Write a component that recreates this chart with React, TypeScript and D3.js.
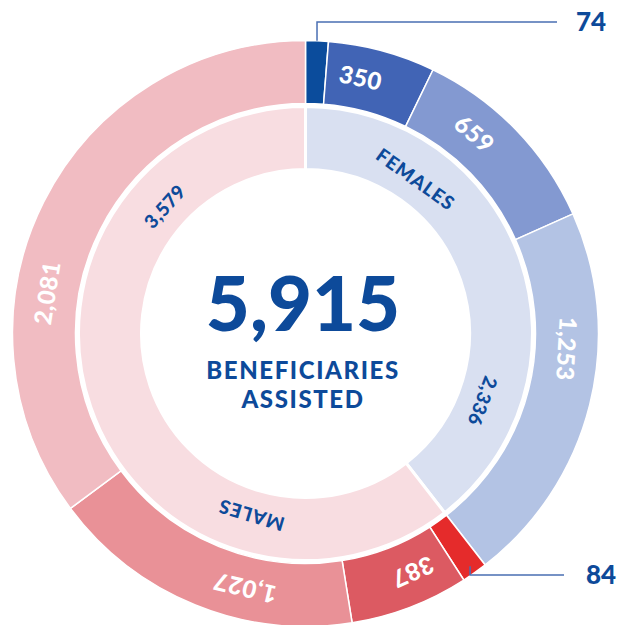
import { useEffect, useRef } from "react";
import * as d3 from "d3";

// values
const groups = ["FEMALES", "MALES"];
const groupTotals = [2336, 3579];
const femaleValues = [74, 350, 659, 1253];
const maleValues = [84, 387, 1027, 2081];
const femaleColors = ["#0b4c9c", "#4164b5", "#8399d1", "#b3c3e4"];
const maleColors = ["#e52b2b", "#dc5a62", "#e99197", "#f1bcc2"];
const innerColors = ["#d9e0f1", "#f8dde1"];
const totalLabel = "5,915";
const subtitle = ["BENEFICIARIES", "ASSISTED"];

const BLUE = "#0d4a9a";
const LINE = "#4a6fb3";

const App = () => {
  const ref = useRef<SVGSVGElement>(null);

  useEffect(() => {
    const width = 618, height = 625;
    const cx = 305.5, cy = 333.5;
    const rOuter = 293, rOuterIn = 230;
    const rInner = 227, rInnerIn = 164;
    const font = "Lato, 'Open Sans', sans-serif";

    const svg = d3.select(ref.current)
      .html("")
      .attr("width", width)
      .attr("height", height);

    const g = svg.append("g").attr("transform", `translate(${cx},${cy})`);

    const fmt = d3.format(",");
    const deg = (a: number) => (a * 180) / Math.PI;

    const pie = d3.pie<number>().sort(null).value((d) => d);

    // inner ring
    const innerArcs = pie(groupTotals);
    const innerArc = d3.arc<d3.PieArcDatum<number>>()
      .innerRadius(rInnerIn)
      .outerRadius(rInner);

    g.selectAll("path.inner")
      .data(innerArcs)
      .enter()
      .append("path")
      .attr("class", "inner")
      .attr("d", innerArc)
      .attr("fill", (d, i) => innerColors[i])
      .attr("stroke", "#fff")
      .attr("stroke-width", 3);

    // outer ring
    const outerValues = [...femaleValues, ...maleValues];
    const outerColors = [...femaleColors, ...maleColors];
    const outerArcs = pie(outerValues);
    const outerArc = d3.arc<d3.PieArcDatum<number>>()
      .innerRadius(rOuterIn)
      .outerRadius(rOuter);

    g.selectAll("path.outer")
      .data(outerArcs)
      .enter()
      .append("path")
      .attr("class", "outer")
      .attr("d", outerArc)
      .attr("fill", (d, i) => outerColors[i])
      .attr("stroke", "#fff")
      .attr("stroke-width", 1.5);

    const place = (a: number, r: number) => [r * Math.sin(a), -r * Math.cos(a)];

    // outer labels (small slices get callouts)
    outerArcs.forEach((d) => {
      const span = d.endAngle - d.startAngle;
      if (span < 0.15) return;
      const a = d.startAngle + span * 0.36;
      const [x, y] = place(a, (rOuter + rOuterIn) / 2);
      g.append("text")
        .attr("transform", `translate(${x},${y}) rotate(${deg(a)})`)
        .attr("text-anchor", "middle")
        .attr("dy", "0.36em")
        .attr("fill", "#fff")
        .style("font-family", font)
        .style("font-weight", 900)
        .style("font-size", "24px")
        .style("letter-spacing", "0.5px")
        .text(fmt(d.data));
    });

    // inner labels: group name and total
    innerArcs.forEach((d, i) => {
      const span = d.endAngle - d.startAngle;
      const items = [
        { t: groups[i], f: 0.25, size: 19, ls: 1 },
        { t: fmt(d.data), f: 0.78, size: 19, ls: 0.5 },
      ];
      items.forEach((it) => {
        const a = d.startAngle + span * it.f;
        const [x, y] = place(a, (rInner + rInnerIn) / 2 - 6);
        g.append("text")
          .attr("transform", `translate(${x},${y}) rotate(${deg(a)})`)
          .attr("text-anchor", "middle")
          .attr("dy", "0.36em")
          .attr("fill", BLUE)
          .style("font-family", font)
          .style("font-weight", 900)
          .style("font-size", `${it.size}px`)
          .style("letter-spacing", `${it.ls}px`)
          .text(it.t);
      });
    });

    // callouts for the two thin slices
    const first = outerArcs[0];
    const a0 = (first.startAngle + first.endAngle) / 2;
    const [x0, y0] = place(a0, rOuter);
    g.append("polyline")
      .attr("points", `${x0},${y0} ${x0},${22 - cy} ${557 - cx},${22 - cy}`)
      .attr("fill", "none")
      .attr("stroke", LINE)
      .attr("stroke-width", 1.5);
    g.append("text")
      .attr("x", 591 - cx)
      .attr("y", 22 - cy)
      .attr("dy", "0.36em")
      .attr("text-anchor", "middle")
      .attr("fill", BLUE)
      .style("font-family", font)
      .style("font-weight", 900)
      .style("font-size", "26px")
      .text(fmt(first.data));

    const male0 = outerArcs[femaleValues.length];
    const a1 = (male0.startAngle + male0.endAngle) / 2;
    const [x1, y1] = place(a1, rOuter - 8);
    g.append("polyline")
      .attr("points", `${x1},${y1} ${x1},${575 - cy} ${564 - cx},${575 - cy}`)
      .attr("fill", "none")
      .attr("stroke", LINE)
      .attr("stroke-width", 1.5);
    g.append("text")
      .attr("x", 601 - cx)
      .attr("y", 575 - cy)
      .attr("dy", "0.36em")
      .attr("text-anchor", "middle")
      .attr("fill", BLUE)
      .style("font-family", font)
      .style("font-weight", 900)
      .style("font-size", "26px")
      .text(fmt(male0.data));

    // centre text
    svg.append("text")
      .attr("x", 303)
      .attr("y", 331)
      .attr("text-anchor", "middle")
      .attr("fill", BLUE)
      .style("font-family", font)
      .style("font-weight", 900)
      .style("font-size", "76px")
      .text(totalLabel);

    subtitle.forEach((s, i) => {
      svg.append("text")
        .attr("x", 303)
        .attr("y", 379 + i * 29)
        .attr("text-anchor", "middle")
        .attr("fill", BLUE)
        .style("font-family", font)
        .style("font-weight", 900)
        .style("font-size", "24px")
        .style("letter-spacing", "1.6px")
        .text(s);
    });
  }, []);

  return <svg ref={ref} style={{ position: "absolute", left: 0, top: 0 }}></svg>;
};

export default App;
